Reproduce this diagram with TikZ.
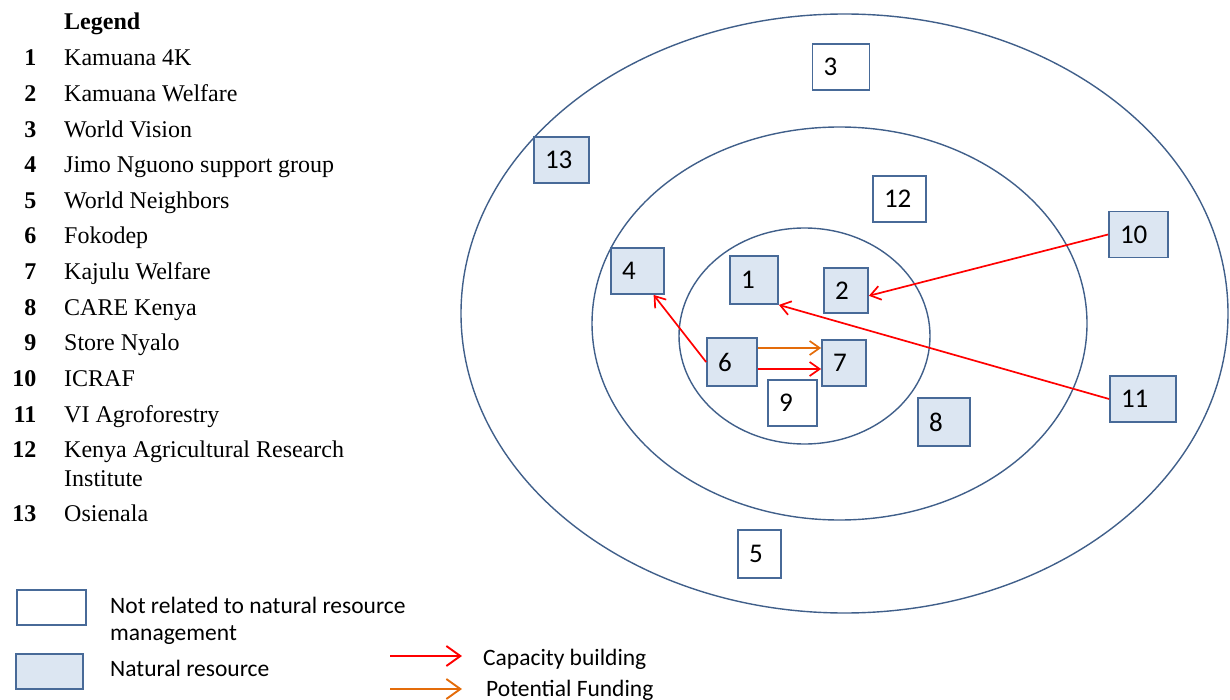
\documentclass[tikz,border=0pt]{standalone}
\usepackage{fontspec}
\setmainfont{Liberation Serif}
\newfontfamily\carlito{Carlito}
\usetikzlibrary{arrows.meta}

\definecolor{ringblue}{RGB}{64,95,138}
\definecolor{boxline}{RGB}{72,106,152}
\definecolor{nrmfill}{RGB}{220,230,242}
\definecolor{capred}{RGB}{255,0,0}
\definecolor{fundorange}{RGB}{228,108,10}

\begin{document}
\begin{tikzpicture}[x=1pt, y=-1pt,
    ring/.style={draw=ringblue, line width=1.4pt},
    org/.style={draw=boxline, line width=1.8pt, fill=white, minimum height=46pt,
      inner xsep=11pt, inner ysep=0pt, align=left, font=\carlito\fontsize{27}{30}\selectfont},
    nrm/.style={org, fill=nrmfill},
    capacity/.style={draw=capred, line width=1.7pt, -{Straight Barb[length=10pt,width=14pt]}},
    funding/.style={capacity, draw=fundorange},
    keyarrow/.style={line width=1.9pt, -{Straight Barb[length=14pt,width=20pt]}},
    key/.style={font=\fontsize{24}{29}\selectfont, anchor=base west, inner sep=0pt, align=left},
    keynum/.style={font=\bfseries\fontsize{24}{29}\selectfont, anchor=base east, inner sep=0pt},
    note/.style={font=\carlito\fontsize{23.5}{27}\selectfont, anchor=base west, inner sep=0pt, align=left}]
  \useasboundingbox (0,0) rectangle (1230,700);

  % rings
  \draw[ring] (844.5,313.5) ellipse [x radius=383.5pt, y radius=299.5pt];
  \draw[ring] (839.5,323.5) ellipse [x radius=247.5pt, y radius=196.5pt];
  \draw[ring] (804.5,336) ellipse [x radius=125.5pt, y radius=108pt];

  % organisations
  \node[org, text width=35pt] (n3) at (841,67) {3};
  \node[nrm, text width=33pt] (n13) at (561.5,160) {13};
  \node[org, text width=31pt] (n12) at (899.5,199) {12};
  \node[nrm, text width=37pt] (n10) at (1138.5,234.5) {10};
  \node[nrm, text width=31pt] (n4) at (637.5,271) {4};
  \node[nrm, text width=26pt, minimum height=48pt] (n1) at (754,280) {1};
  \node[nrm, text width=22pt, minimum height=45pt] (n2) at (846,290.5) {2};
  \node[nrm, text width=28pt, minimum height=48pt] (n6) at (732,362) {6};
  \node[nrm, text width=22pt] (n7) at (844,363) {7};
  \node[org, text width=27pt] (n9) at (792.5,403) {9};
  \node[nrm, text width=44pt] (n11) at (1143,399) {11};
  \node[nrm, text width=30pt, minimum height=48pt] (n8) at (944,422) {8};
  \node[org, text width=21pt, minimum height=48pt] (n5) at (759.5,554) {5};

  \draw[capacity] (n10.west) -- (n2.-13);
  \draw[capacity] (n11.west) -- (n1.south east);
  \draw[capacity] (n6.west) -- (n4.-56);
  \draw[funding] ([yshift=14pt]n6.east) -- ([yshift=15pt]n7.west);
  \draw[capacity] ([yshift=-7pt]n6.east) -- ([yshift=-6pt]n7.west);

  % legend
  \node[key, font=\bfseries\fontsize{24}{29}\selectfont] (legend) at (64,30) {Legend};
  \foreach \n/\name/\y in {1/Kamuana 4K/66, 2/Kamuana Welfare/101.6, 3/World Vision/137.2,
      4/Jimo Nguono support group/172.8, 5/World Neighbors/208.4, 6/Fokodep/244,
      7/Kajulu Welfare/279.6, 8/CARE Kenya/315.2, 9/Store Nyalo/350.8, 10/ICRAF/386.4,
      11/VI Agroforestry/422, 13/Osienala/521.6} {
    \node[keynum] (num\n) at (36.5,\y) {\n};
    \node[key] (item\n) at (64,\y) {\name};
  }
  \node[keynum] (num12) at (36.5,457.6) {12};
  \node[key] (item12) at (64,486.6) {Kenya Agricultural Research\\Institute};

  \node[org, text width=47pt, minimum height=35pt] (keyplain) at (51.5,607.5) {};
  \node[nrm, text width=45pt, minimum height=35pt] (keynrm) at (49.5,671.5) {};
  \node[note] (plaintext) at (110,640) {Not related to natural resource\\management};
  \node[note] (nrmtext) at (110,676) {Natural resource};

  \coordinate (capstart) at (390,656);
  \coordinate (capend) at (462,656);
  \coordinate (fundstart) at (390,689);
  \coordinate (fundend) at (462,689);
  \draw[keyarrow, draw=capred] (capstart) -- (capend);
  \draw[keyarrow, draw=fundorange] (fundstart) -- (fundend);
  \node[note] (captext) at (483,665) {Capacity building};
  \node[note] (fundtext) at (486,696) {Potential Funding};
\end{tikzpicture}
\end{document}
